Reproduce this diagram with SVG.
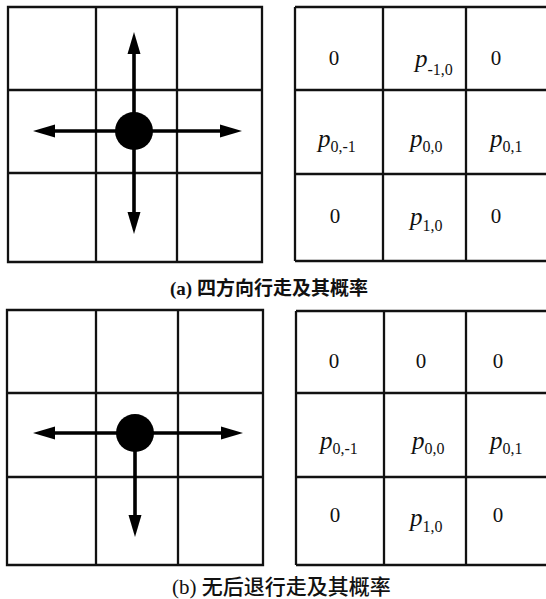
<svg xmlns="http://www.w3.org/2000/svg" width="546" height="599" viewBox="0 0 546 599">
<style>
  .grid { fill: none; stroke: #111; stroke-width: 2.3; }
  .num { font-family: "Liberation Serif", serif; font-size: 21px; fill: #111; text-anchor: middle; }
  .pv { font-family: "Liberation Serif", serif; font-size: 25px; font-style: italic; fill: #111; }
  .sub { font-size: 16px; font-style: normal; }
  .arrow { stroke: #000; stroke-width: 3.6; fill: none; marker-end: url(#head); }
  .cap { font-family: "Liberation Serif", "Noto Sans CJK SC", serif; font-size: 19px; font-weight: bold; fill: #111; }
  .capb { font-family: "Liberation Serif", "Noto Sans CJK SC", serif; font-size: 21px; font-weight: 500; fill: #111; }
</style>
<defs>
  <marker id="head" markerUnits="userSpaceOnUse" markerWidth="24" markerHeight="14" refX="7" refY="6.5" orient="auto" overflow="visible">
    <path d="M0,0 L22,6.5 L0,13 Z" fill="#000"/>
  </marker>
</defs>
<rect width="546" height="599" fill="#fff"/>

<g id="panel-a-walk">
  <path class="grid" d="M8,7 H262 V262 H8 Z M96,7 V262 M177,7 V262 M8,90 H262 M8,173 H262"/>
  <circle id="a-walker" cx="134" cy="131" r="19" fill="#000"/>
</g>
<g id="panel-a-prob">
  <path class="grid" d="M295,7 H560 M295,261 H560 M295,7 V261 M383,7 V261 M466,7 V261 M295,90 H560 M295,174 H560"/>
  <g id="a-c11"><text class="num" x="334" y="65">0</text></g>
  <g id="a-c12"><text class="pv" x="415" y="67">p<tspan class="sub" dy="8">-1,0</tspan></text></g>
  <g id="a-c13"><text class="num" x="496" y="65">0</text></g>
  <g id="a-c21"><text class="pv" x="318" y="147">p<tspan class="sub" dy="5">0,-1</tspan></text></g>
  <g id="a-c22"><text class="pv" x="410" y="147">p<tspan class="sub" dy="5">0,0</tspan></text></g>
  <g id="a-c23"><text class="pv" x="490" y="147">p<tspan class="sub" dy="5">0,1</tspan></text></g>
  <g id="a-c31"><text class="num" x="335" y="223">0</text></g>
  <g id="a-c32"><text class="pv" x="410" y="225">p<tspan class="sub" dy="6">1,0</tspan></text></g>
  <g id="a-c33"><text class="num" x="496" y="223">0</text></g>
</g>
<text id="caption-a" class="cap" x="170" y="295">(a) 四方向行走及其概率</text>

<g id="panel-b-walk">
  <path class="grid" d="M7,310 H263 V565 H7 Z M96,310 V565 M178,310 V565 M7,393 H263 M7,477 H263"/>
  <circle id="b-walker" cx="135" cy="433" r="19" fill="#000"/>
</g>
<g id="panel-b-prob">
  <path class="grid" d="M296,311 H560 M296,565 H560 M296,311 V565 M384,311 V565 M466,311 V565 M296,393 H560 M296,477 H560"/>
  <g id="b-c11"><text class="num" x="334" y="368">0</text></g>
  <g id="b-c12"><text class="num" x="421" y="368">0</text></g>
  <g id="b-c13"><text class="num" x="498" y="368">0</text></g>
  <g id="b-c21"><text class="pv" x="320" y="449">p<tspan class="sub" dy="5">0,-1</tspan></text></g>
  <g id="b-c22"><text class="pv" x="412" y="449">p<tspan class="sub" dy="5">0,0</tspan></text></g>
  <g id="b-c23"><text class="pv" x="490" y="449">p<tspan class="sub" dy="5">0,1</tspan></text></g>
  <g id="b-c31"><text class="num" x="335" y="522">0</text></g>
  <g id="b-c32"><text class="pv" x="410" y="526">p<tspan class="sub" dy="6">1,0</tspan></text></g>
  <g id="b-c33"><text class="num" x="498" y="522">0</text></g>
</g>
<text id="caption-b" class="capb" x="172" y="594">(b) 无后退行走及其概率</text>

<g id="connectors">
  <line class="arrow" x1="134" y1="131" x2="134" y2="47"/>
  <line class="arrow" x1="134" y1="131" x2="134" y2="219"/>
  <line class="arrow" x1="134" y1="131" x2="48" y2="131"/>
  <line class="arrow" x1="134" y1="131" x2="227" y2="131"/>
  <line class="arrow" x1="135" y1="433" x2="48" y2="433"/>
  <line class="arrow" x1="135" y1="433" x2="228" y2="433"/>
  <line class="arrow" x1="135" y1="433" x2="135" y2="522"/>
</g>
</svg>
